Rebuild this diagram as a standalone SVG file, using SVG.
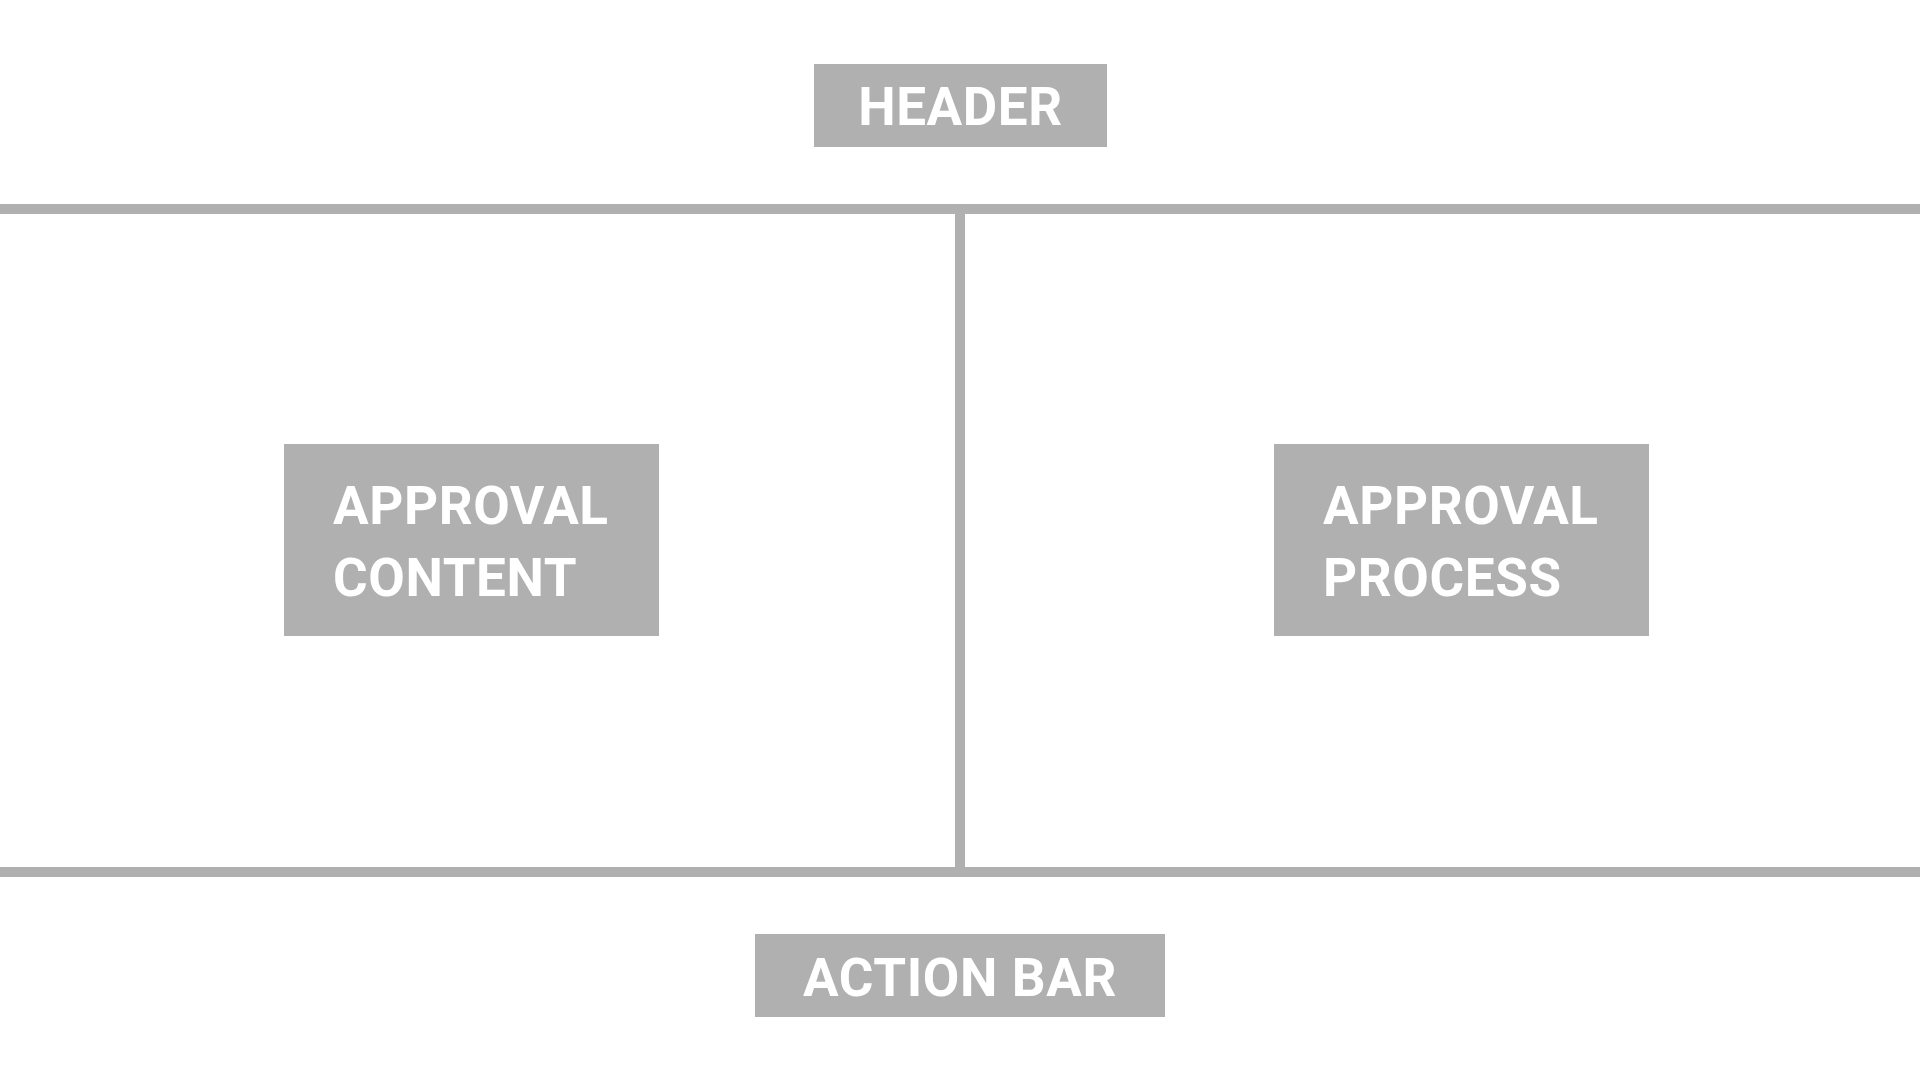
<svg xmlns="http://www.w3.org/2000/svg" width="1920" height="1080" viewBox="0 0 1920 1080">
<style>
.box{fill:#b0b0b0}
.line{fill:#b0b0b0}
.lbl{font-family:Roboto,"Liberation Sans",sans-serif;font-weight:700;font-size:53px;letter-spacing:0.6px;fill:#ffffff}
</style>
<rect width="1920" height="1080" fill="#ffffff"/>
<g id="connectors">
<rect class="line" x="0" y="204" width="1920" height="10"/>
<rect class="line" x="955" y="214" width="10" height="653"/>
<rect class="line" x="0" y="867" width="1920" height="10"/>
</g>
<g id="header">
<rect class="box" x="814" y="64" width="293" height="83"/>
<text class="lbl" x="960.5" y="125" text-anchor="middle">HEADER</text>
</g>
<g id="approval-content">
<rect class="box" x="284" y="444" width="375" height="192"/>
<text class="lbl" x="333" y="524">APPROVAL</text>
<text class="lbl" x="333" y="596">CONTENT</text>
</g>
<g id="approval-process">
<rect class="box" x="1274" y="444" width="375" height="192"/>
<text class="lbl" x="1323" y="524">APPROVAL</text>
<text class="lbl" x="1323" y="596">PROCESS</text>
</g>
<g id="action-bar">
<rect class="box" x="755" y="934" width="410" height="83"/>
<text class="lbl" x="960" y="996" text-anchor="middle">ACTION BAR</text>
</g>
</svg>
